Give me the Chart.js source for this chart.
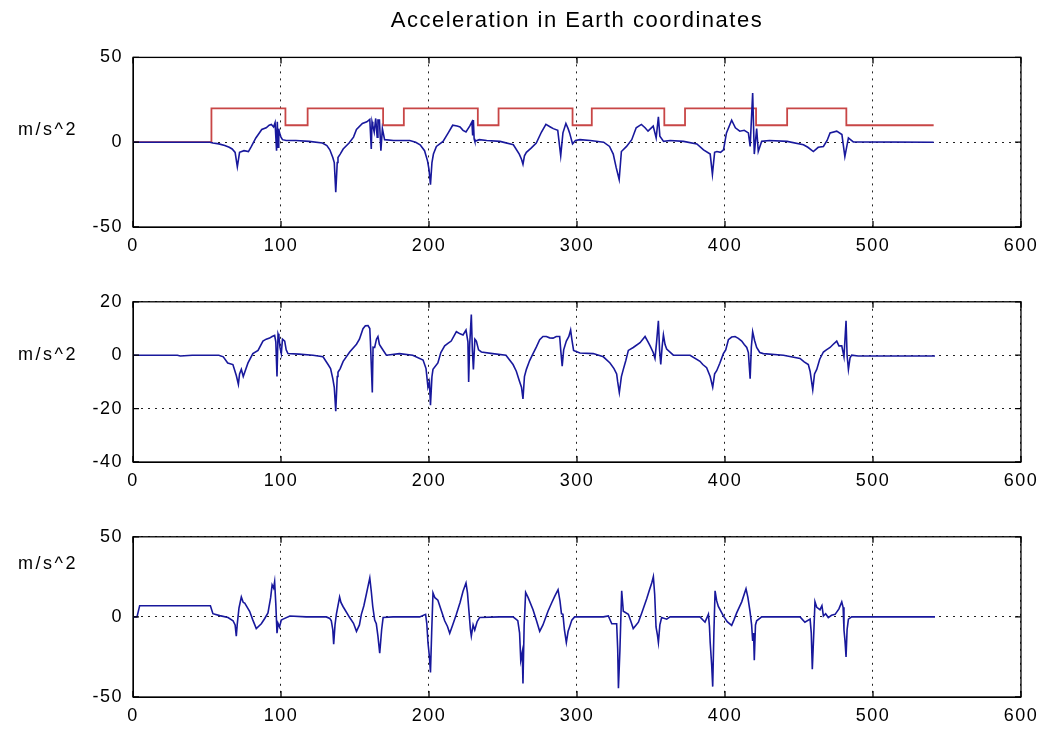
<!DOCTYPE html>
<html>
<head>
<meta charset="utf-8">
<script src="https://cdn.jsdelivr.net/npm/chart.js@4.4.1/dist/chart.umd.min.js"></script>
<style>
  body { margin: 0; background: #fff; }
  .box { position: absolute; left: 0; width: 1044px; }
</style>
</head>
<body>
<div class="box" style="top:0;height:262px"><canvas id="acc1"></canvas></div>
<div class="box" style="top:281px;height:215px"><canvas id="acc2"></canvas></div>
<div class="box" style="top:516px;height:215px"><canvas id="acc3"></canvas></div>
<script>
// x ticks shared by all three panels
const xTicks = [0, 100, 200, 300, 400, 500, 600];
const yTicks1 = [-50, 0, 50];
const yTicks2 = [-40, -20, 0, 20];
const yTicks3 = [-50, 0, 50];

// panel 1 - blue trace
const t1 = [0,52,54,58,62,65,67,69,70.5,72,75,78,80,83,85,87,90,92,93.5,95,96,97,97.5,98,98.5,99,100,101,103.5,110,119,128,131,133,135,136,137,138,138.5,140,142,146,149,151,155,158,160,161,161.5,162,163,164,165,165.5,166.5,167.5,168.5,170,176,187,191,194,197,199,200,201,202,203,205,209.5,213,216,219,221,223,225,227.5,229,229.5,230,230.5,231,234,239,248,257,261,262.5,263.5,264.5,265.8,269,272.5,276,279,282,284,287,289,290.5,292.5,294,295,297,299,302,309,318,322,324.5,326.5,328.5,330,333.5,337,340,343.5,346,348,351.5,353.5,355,356,358.5,363,372,381,385.5,390,391.5,393,394.5,397,399,401,404.5,407,410,413,415.8,417,418.7,419.8,421.4,422.5,424.8,430,442,453,456,459.7,463,466.5,469,471,475.5,479,481,483.4,486.7,541];
const a1 = [0,0,-0.5,-1,-2,-3,-4,-6,-14.5,-6,-5,-5.5,-2.5,2.5,5,7.5,8.5,10,10.5,9,11.5,-5,12,-3,8,5.5,3,1.5,1,1,0.5,-0.5,-2,-4.5,-9,-12,-29.5,-12,-9,-7,-4,-0.5,3,7.5,11,12,13.5,-4,12,10,6,14,3,13,13,-5,8,1.5,1,1,0,-1.5,-5,-11,-16,-25,-12,-7,-2.5,0.5,5.5,10,9.5,9,7,6,9.5,12,4,13,2,0.5,1.5,1,0.5,-1.5,-7,-10,-13,-8,-6,-3.5,-0.5,6,10.5,9,8,7,-8,5.5,11,8,5.5,-1,1,1.5,1,0,-2.5,-7,-15,-22,-5.5,-2.5,1.5,8.5,10.5,8.5,6.5,9.5,2.5,15,3.5,0.5,1,0.5,-1,-4.5,-7,-19,-6,-5.5,-6,-4.5,5.5,13,8.5,6.5,7,5.5,-2.5,29,-7,8,-5.5,0.5,1,0.5,-1.5,-3,-5.5,-3,-2.5,1,5.5,6.5,4.5,-8.5,2.5,0.2,0];

// panel 1 - red step trace
const tStep = [0,53,53,103,103,118,118,169,169,183,183,233,233,247,247,297,297,310,310,359,359,373,373,421,421,442,442,482,482,541];
const step = [0,0,20,20,10,10,20,20,10,10,20,20,10,10,20,20,10,10,20,20,10,10,20,20,10,10,20,20,10,10];

// panel 2
const t2 = [0,30,32,40,58,61,64,67.5,69.8,71.2,72,73.2,74.5,75.5,77.7,81,84.5,87.8,90,92.3,94,95.7,96.5,97.3,98,98.6,99.3,100.2,101,102.5,103.5,104.7,112,121.6,128.4,131.8,133.5,135,136,137,138,138.5,140,142,146.4,151,153,155.4,157,158.8,160,160.4,161.7,162.2,163.3,164.5,165.5,166.5,167.8,171.2,180,189,196,198,199.3,200.3,201,202,202.7,206,208,210.6,213,215,218.5,221,223,225,226.3,226.8,227.5,228.6,229.3,230,231,232,233.5,235.4,243,252,256.8,259,261.3,262.5,263.5,264.5,265.8,268,270.3,272.5,274.8,277,279.3,281.5,283.8,286,288.3,289,290,291,292.8,294.5,295.7,296.5,297.7,299,302,311,317.8,322.3,325,326.8,327.5,328.6,330,331.3,333,334.7,338,342.6,346,348,349.4,351.5,352.7,353.8,355,355.8,356.6,357.5,358.4,359.5,360.6,365.1,376.4,383.1,385,387.6,390,391.7,393,394.4,396.5,398.9,400.5,402.3,404.5,406.8,409,411.3,413,414.7,415.8,417,417.8,418.7,420,421.4,423.5,425.9,439.5,450.7,453.5,456.3,457.5,459.3,460.5,462,464,466.5,468.5,471,473,475.5,477,478.9,480.4,481.8,482.5,483.4,484.5,485.6,490,541.9];
const a2 = [0,0,-0.3,0,0,-0.6,-2.9,-3.5,-7.6,-10.9,-7,-5.3,-8,-6.4,-2.9,0.6,1.8,5.3,6,6.4,7,7.4,5,-8,8,7,3,0.6,6,5.3,2,0.6,0.4,0,-0.6,-3.5,-5,-8.8,-12,-21,-8,-6.4,-5,-2.3,1.2,4.1,6,9.9,11,11.1,10,5.3,-14,3,2.9,6,7,4,2.9,0,0.6,0,-1.8,-5,-12,-10,-18.7,-8,-5.3,-2.9,1,3.5,4.5,5.3,8.8,8,7.6,9.4,5,-10,4,15.2,2,-5.3,6,5.3,2,1.2,0.6,0,-3.5,-6,-10,-12,-16.4,-8,-5.3,-2,0.6,3,5.8,7,7,6.5,6.4,7,7,2,-4.1,2,5.3,7,9.4,6,1.8,1.5,0.8,0.6,-0.6,-2.9,-5,-7,-10,-14,-8,-5.3,-2,1.8,2.9,4.7,7,5,3.5,1,-1.2,5,12.9,2,-3.5,3,7.6,4,2.3,0,0,-2.3,-3.5,-4.7,-8,-12,-7,-5.8,-3,0.6,2,5.8,6.8,7,6.3,5.3,4,2.9,1,-8.8,3,8.8,5.5,2.9,1,0.6,0,-1.2,-2.5,-3.5,-6,-12.9,-7,-5.3,-1.5,1.2,2,2.9,4,5.3,3.5,3.5,-0.6,12.9,0,-5.3,-1,0,-0.3,-0.3];

// panel 3
const t3 = [0,2.7,4.5,52.3,54,58.6,64.2,67.6,69,69.8,70.5,71.6,73.2,74.5,75.5,78.8,81,83.3,86.7,89,91.2,93,94,95,95.7,96.5,97.3,98,99,100.2,101.4,106,117,130.6,133,134,135,135.6,136.5,137.4,139.6,140.5,141.9,146.4,149,151,153,154.3,156,157.7,159,160,161,162,163.3,164.4,165.5,166.7,168,169,175.7,193.7,197.7,198.5,199.3,200.3,201,201.8,202.7,204,206,210.6,212.5,214,216,218.5,221,223,225,226,227,228,228.6,229.8,230.9,232.5,234.2,247.7,256.8,260,261.2,262,263,263.5,264.3,265.3,267,270.3,272.5,274.8,277,280.4,283,285,287.2,288.5,289.5,290.5,291.5,292.8,294,295,296.5,298.4,317.8,321.2,323.5,326.8,327.5,328,329,329.5,330.2,331.3,334.7,336.5,338,340,341.5,344,347.1,349,350.5,351.6,352.5,353.4,354.3,355,356,357.2,360.6,362.9,383.1,386.5,388.8,389.5,390,391,391.7,392.5,393.3,394.4,395.5,398.9,401.5,404.5,406,407.9,411.3,414.2,415.5,416.9,418,418.7,419.3,419.8,420.6,421.4,424.8,450.7,454,457.5,458.3,459,460,460.8,462,464.2,465.5,466.5,468,469.8,472,474.4,477,478.9,479.8,480.4,481.1,481.8,482.5,483.4,485.6,541.9];
const a3 = [0,0,7,7,2,0.8,-0.4,-2.4,-5,-12,-4,5.5,12.4,9,8.6,3.5,-2,-7.3,-4.3,-1,2.5,12,20,18,22,8,-10.2,-4,-6.3,-2,-1.4,0.6,0,0,-1,-2.4,-8,-17,-5,1.6,12.4,9,6.5,-0.4,-4,-9,-5,1.6,7,14.3,20,24.3,16,6.5,-2,-4.3,-12,-22.7,-8,-0.4,0,0,1.6,-4,-16,-25,-34.7,-10,15,12,10.4,-2.4,-6,-10.2,-5,1.6,9,16,21.2,15,3.5,-8,-12,-5,-8.2,-3,-0.4,0,0,-2.4,-10,-27,-22,-41.6,-5,15.3,12,4.5,-2,-9,-5,3.5,9,13,17,10,2,1.6,-8,-16,-9,-6.3,-2,0,0,0.6,-4.3,-4.3,-20,-44.5,-21,-5,16.3,3.5,1.6,-3,-7.3,-5,-3.3,3,11.3,17,21.2,25.1,14,-6.3,-11,-16,-5,-0.4,-1.4,0,0,-3.3,1.6,-6,-16,-30,-43.5,-10,16.3,10,6.5,0.6,-3,-5.3,-2,2.5,9.4,17.6,12,3.5,-5,-15,-10,-27,-5,-2.4,0,0,-3.3,-1.4,-10,-32.7,-10,9.4,6,4.5,7,0.6,2,-0.4,1,1.6,5,9.4,6,-8.2,-15,-25,-8,-1.4,0,0];

const blue = '#18189c';
const red = '#c84646';
const tickFont = { family: 'Liberation Sans, Arial, sans-serif', size: 18 };

function pts(xs, ys) {
  return xs.map((x, i) => ({ x: x, y: ys[i] }));
}

// MATLAB style box with inward tick marks + the horizontal "m/s^2" label
const matlabBox = {
  id: 'matlabBox',
  beforeDraw(chart) {
    chart.ctx.letterSpacing = '1.5px';
  },
  afterDraw(chart, args, opts) {
    const c = chart.ctx;
    const a = chart.chartArea;
    const xs = chart.scales.x, ys = chart.scales.y;
    c.save();
    c.strokeStyle = '#000';
    c.lineWidth = 1.3;
    c.strokeRect(a.left, a.top, a.right - a.left, a.bottom - a.top);
    c.beginPath();
    xs.ticks.forEach(t => {
      const px = xs.getPixelForValue(t.value);
      c.moveTo(px, a.top); c.lineTo(px, a.top + 6);
      c.moveTo(px, a.bottom); c.lineTo(px, a.bottom - 6);
    });
    ys.ticks.forEach(t => {
      const py = ys.getPixelForValue(t.value);
      c.moveTo(a.left, py); c.lineTo(a.left + 6, py);
      c.moveTo(a.right, py); c.lineTo(a.right - 6, py);
    });
    c.stroke();
    c.fillStyle = '#000';
    c.font = '18px "Liberation Sans", Arial, sans-serif';
    c.letterSpacing = '2.5px';
    c.textAlign = 'center';
    c.textBaseline = 'middle';
    c.fillText(opts.text, 48, ys.getPixelForValue(opts.at));
    c.restore();
  }
};

function makeOpts(yt, unitAt, title, xh) {
  return {
    responsive: true,
    maintainAspectRatio: false,
    animation: false,
    layout: { padding: { top: title ? 0 : 12, right: 22, left: 0, bottom: 0 } },
    plugins: {
      legend: { display: false },
      tooltip: { enabled: false },
      title: title ? {
        display: true,
        text: title,
        fullSize: false,
        color: '#000',
        font: { family: 'Liberation Sans, Arial, sans-serif', size: 22, weight: 'normal' },
        padding: { top: 8, bottom: 23 }
      } : { display: false },
      matlabBox: { text: 'm/s^2', at: unitAt }
    },
    elements: { point: { radius: 0 }, line: { tension: 0 } },
    scales: {
      x: {
        type: 'linear',
        min: xTicks[0],
        max: xTicks[xTicks.length - 1],
        afterBuildTicks: s => { s.ticks = xTicks.map(v => ({ value: v })); },
        afterFit: s => { s.height = xh; },
        ticks: { color: '#000', font: tickFont, padding: 8, autoSkip: false, maxRotation: 0 },
        grid: { color: '#222', lineWidth: 1, drawTicks: false },
        border: { color: '#000', dash: [2, 5] }
      },
      y: {
        min: yt[0],
        max: yt[yt.length - 1],
        afterBuildTicks: s => { s.ticks = yt.map(v => ({ value: v })); },
        afterFit: s => { s.width = 133; },
        ticks: { color: '#000', font: tickFont, padding: 10 },
        grid: { color: '#222', lineWidth: 1, drawTicks: false },
        border: { color: '#000', dash: [2, 5] }
      }
    }
  };
}

new Chart(document.getElementById('acc1'), {
  type: 'line',
  data: {
    datasets: [
      { data: pts(t1, a1), borderColor: blue, borderWidth: 1.6 },
      { data: pts(tStep, step), borderColor: red, borderWidth: 1.8 }
    ]
  },
  options: makeOpts(yTicks1, 7, 'Acceleration in Earth coordinates', 35),
  plugins: [matlabBox]
});

new Chart(document.getElementById('acc2'), {
  type: 'line',
  data: { datasets: [{ data: pts(t2, a2), borderColor: blue, borderWidth: 1.6 }] },
  options: makeOpts(yTicks2, 0, null, 34),
  plugins: [matlabBox]
});

new Chart(document.getElementById('acc3'), {
  type: 'line',
  data: { datasets: [{ data: pts(t3, a3), borderColor: blue, borderWidth: 1.6 }] },
  options: makeOpts(yTicks3, 33, null, 34),
  plugins: [matlabBox]
});
</script>
</body>
</html>
